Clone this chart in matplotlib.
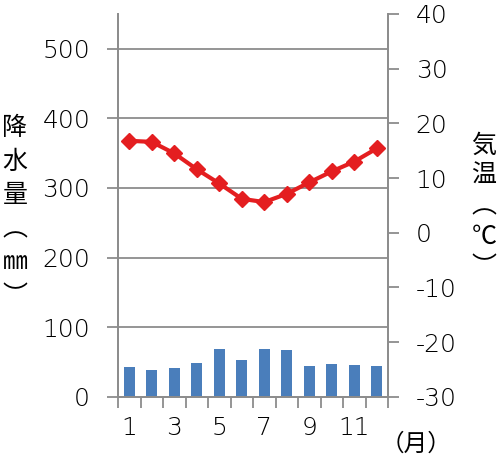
import numpy as np
import matplotlib.pyplot as plt

plt.rcParams['font.family'] = ['Noto Sans CJK JP', 'DejaVu Sans']
plt.rcParams['axes.unicode_minus'] = False

months = np.arange(1, 13)
month_labels = ['1', '', '3', '', '5', '', '7', '', '9', '', '11', '']
precip = [43, 39, 42, 49, 69, 53, 69, 67, 44, 47, 46, 44]
temp = [16.8, 16.6, 14.5, 11.6, 9.0, 6.2, 5.6, 7.1, 9.2, 11.2, 13.0, 15.4]

gray = '#8c8c8c'
fig = plt.figure(figsize=(5, 4.61), dpi=100)
ax = fig.add_axes([0.236, 0.139, 0.54, 0.831])
ax2 = ax.twinx()

x = np.arange(len(months))
ax.bar(x, precip, width=0.47, color='#4a7ebb', zorder=2)
ax.set_xlim(-0.5, 11.5)
ax.set_ylim(0, 550)
ax.set_yticks([0, 100, 200, 300, 400, 500])
for v in [100, 200, 300, 400, 500]:
    ax.axhline(v, color=gray, lw=1.3, zorder=1)

ax.set_xticks(np.arange(-0.5, 12, 1))
ax.set_xticklabels([])
ax.set_xticks(x, minor=True)
ax.set_xticklabels(month_labels, minor=True)
ax.tick_params(axis='x', which='major', length=8, width=1.3, color=gray)
ax.tick_params(axis='x', which='minor', length=0, pad=14, labelsize=18)
ax.tick_params(axis='y', length=8, width=1.3, color=gray, pad=12, labelsize=18)

ax2.plot(x, temp, color='#e41e20', lw=3, marker='D', ms=8.5, zorder=3)
ax2.set_ylim(-30, 40)
ax2.set_yticks(range(-30, 41, 10))
ax2.tick_params(axis='y', length=8, width=1.3, color=gray, pad=12, labelsize=18)

for lbl in ax.get_xticklabels(minor=True) + ax.get_yticklabels() + ax2.get_yticklabels():
    lbl.set_family(['DejaVu Sans'])
    lbl.set_fontweight('light')

for a in (ax, ax2):
    a.spines['top'].set_visible(False)
    for s in ('left', 'right', 'bottom'):
        a.spines[s].set_color(gray)
        a.spines[s].set_linewidth(1.3)

fig.text(0.03, 0.54, '降\n水\n量\n︵\n㎜\n︶', ha='center', va='center',
         fontsize=18, linespacing=1.38)
fig.text(0.968, 0.552, '気\n温\n︵\n℃\n︶', ha='center', va='center',
         fontsize=18, linespacing=1.22)
fig.text(0.832, 0.037, '（月）', ha='center', va='center', fontsize=17)

fig.savefig('out.png', dpi=100)
